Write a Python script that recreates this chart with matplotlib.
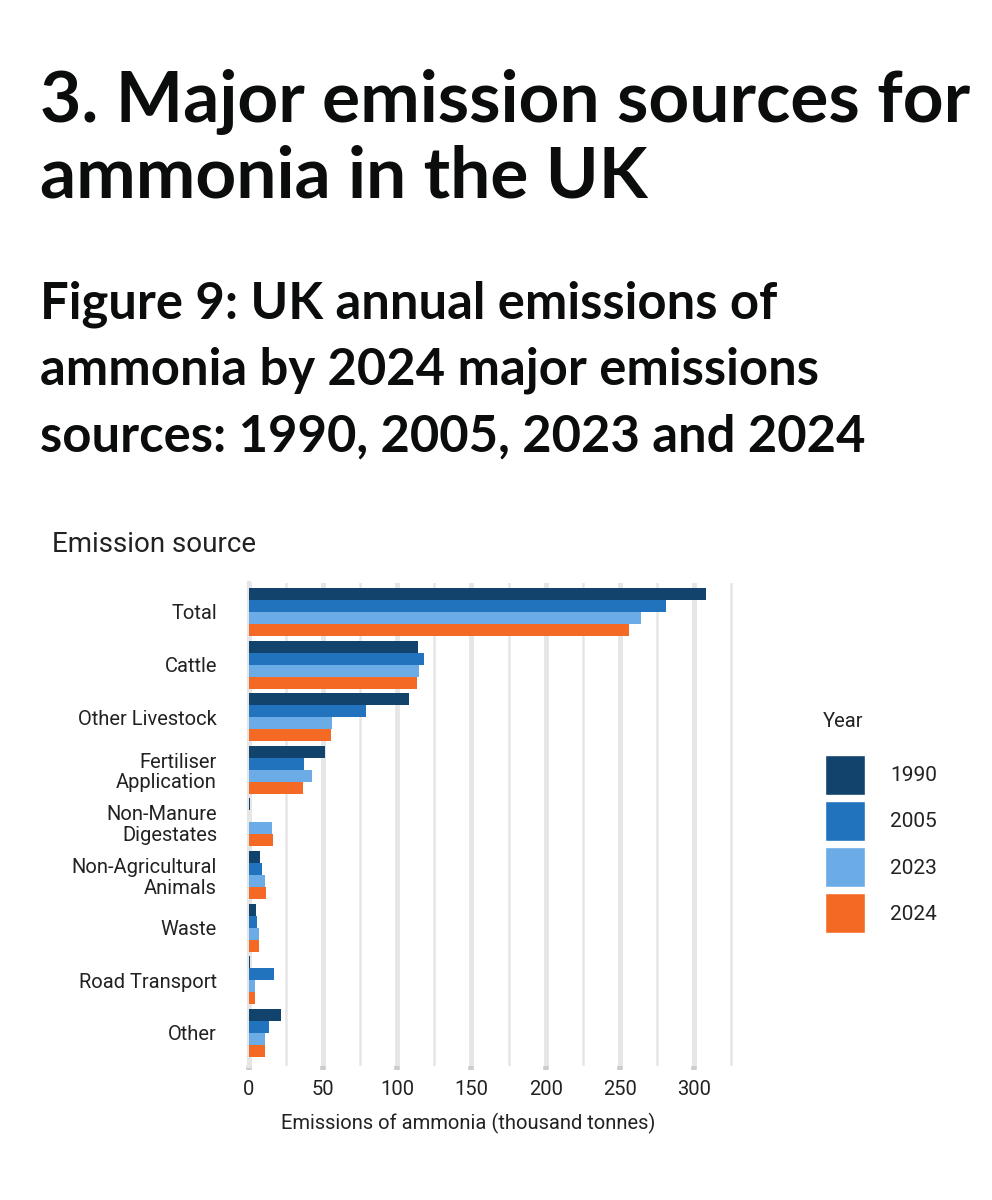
import numpy as np
import matplotlib.pyplot as plt
from matplotlib.patches import Patch

# UK ammonia emissions by source (thousand tonnes)
sources = ['Total', 'Cattle', 'Other Livestock', 'Fertiliser\nApplication',
           'Non-Manure\nDigestates', 'Non-Agricultural\nAnimals', 'Waste',
           'Road Transport', 'Other']
years = ['1990', '2005', '2023', '2024']
em_1990 = [308, 113.7, 108, 51.5, 0.5, 7.2, 4.7, 0.8, 21.4]
em_2005 = [281, 117.8, 79, 37.3, 0.3, 8.9, 5.6, 17, 13.5]
em_2023 = [264, 114.9, 55.7, 42.3, 15.7, 10.6, 7.0, 4.3, 10.6]
em_2024 = [256, 113.3, 55.5, 36.2, 15.9, 11.3, 7.0, 4.3, 10.6]
colours = ['#12436D', '#2073BC', '#6BACE6', '#F46A25']

W, H = 992, 1200
fig = plt.figure(figsize=(W / 100, H / 100), dpi=100)
fig.patch.set_facecolor('white')

title_font = ['Lato', 'DejaVu Sans']
body_font = ['Roboto', 'DejaVu Sans']

# headings
fig.text(40 / W, 1 - 122 / H, '3. Major emission sources for', fontsize=51.3,
         fontweight='bold', family=title_font, va='baseline', color='#0b0c0c')
fig.text(40 / W, 1 - 198 / H, 'ammonia in the UK', fontsize=51.3,
         fontweight='bold', family=title_font, va='baseline', color='#0b0c0c')
sub = ['Figure 9: UK annual emissions of',
       'ammonia by 2024 major emissions',
       'sources: 1990, 2005, 2023 and 2024']
for i, line in enumerate(sub):
    fig.text(40 / W, 1 - (318 + 67 * i) / H, line, fontsize=36.5,
             fontweight='bold', family=title_font, va='baseline', color='#0b0c0c')

fig.text(52 / W, 1 - 552 / H, 'Emission source', fontsize=20,
         family=body_font, va='baseline', color='#222222')

# chart
left, right, top, bottom = 249, 735.5, 583, 1066
ax = fig.add_axes([left / W, 1 - bottom / H, (right - left) / W, (bottom - top) / H])
y = np.arange(len(sources))
bh = 0.228
series = [em_1990, em_2005, em_2023, em_2024]
for k, (vals, c) in enumerate(zip(series, colours)):
    ax.barh(y + (k - 1.5) * bh, vals, height=bh, color=c, zorder=3)

ax.set_xlim(0, 328)
ax.set_ylim(8.63, -0.55)
ax.set_xticks(np.arange(0, 301, 50))
ax.set_xticks(np.arange(25, 326, 50), minor=True)
ax.grid(True, which='major', axis='x', color='#e6e6e6', linewidth=3.5, zorder=0)
ax.grid(True, which='minor', axis='x', color='#e6e6e6', linewidth=1.8, zorder=0)
ax.set_yticks(y)
ax.set_yticklabels(sources, fontsize=14.5, family=body_font, color='#222222',
                   linespacing=1.1)
ax.tick_params(axis='y', length=0, pad=23)
ax.tick_params(axis='x', which='major', length=3, width=4, color='#cccccc',
               labelsize=14.5, pad=7, labelcolor='#222222')
ax.tick_params(axis='x', which='minor', length=0)
for lab in ax.get_xticklabels():
    lab.set_family(body_font)
for s in ['top', 'right', 'bottom']:
    ax.spines[s].set_visible(False)
ax.spines['left'].set_color('#e6e6e6')
ax.spines['left'].set_linewidth(3)
ax.set_xlabel('Emissions of ammonia (thousand tonnes)', fontsize=14.5,
              family=body_font, color='#222222')
ax.xaxis.set_label_coords(0.45, -0.097)

# legend
fig.text(823 / W, 1 - 727 / H, 'Year', fontsize=14.5, family=body_font,
         va='baseline', color='#222222')
handles = [Patch(facecolor=c, edgecolor='white') for c in colours]
leg = fig.legend(handles, years, loc='upper left',
                 bbox_to_anchor=(825 / W, 1 - 755 / H), frameon=False,
                 borderaxespad=0, borderpad=0,
                 handlelength=1.92, handleheight=2.58, labelspacing=0.29,
                 handletextpad=1.2, prop={'family': body_font, 'size': 15})
for t in leg.get_texts():
    t.set_color('#222222')

fig.savefig('out.png', dpi=100, facecolor='white')
